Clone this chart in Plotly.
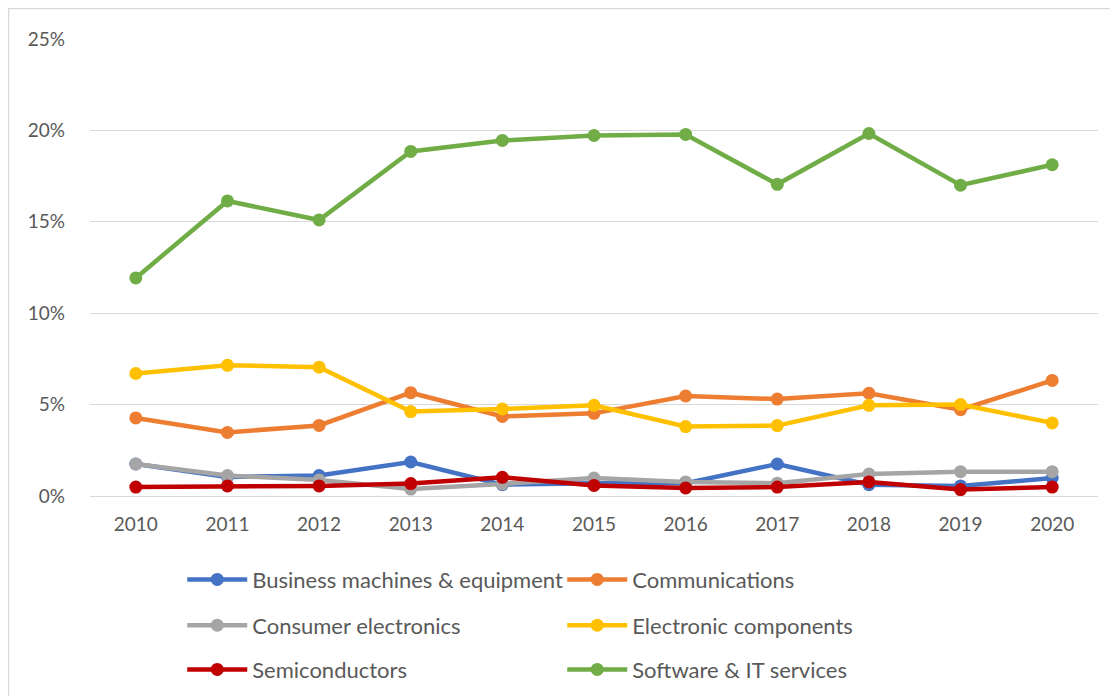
import plotly.graph_objects as go

years = ["2010", "2011", "2012", "2013", "2014", "2015", "2016", "2017", "2018", "2019", "2020"]

business = [1.75, 1.04, 1.12, 1.86, 0.62, 0.70, 0.70, 1.75, 0.62, 0.55, 0.98]
communications = [4.27, 3.48, 3.86, 5.65, 4.35, 4.52, 5.47, 5.30, 5.62, 4.72, 6.32]
consumer = [1.75, 1.12, 0.88, 0.38, 0.66, 0.98, 0.77, 0.70, 1.20, 1.33, 1.33]
components = [6.70, 7.15, 7.05, 4.62, 4.76, 4.96, 3.80, 3.85, 4.96, 5.00, 4.00]
semis = [0.49, 0.55, 0.55, 0.68, 1.02, 0.58, 0.44, 0.49, 0.77, 0.35, 0.49]
software = [11.93, 16.14, 15.10, 18.85, 19.45, 19.72, 19.78, 17.05, 19.83, 17.00, 18.12]

series = [
    ("Business machines & equipment", business, "#4472C4", "legend"),
    ("Communications", communications, "#ED7D31", "legend"),
    ("Consumer electronics", consumer, "#A5A5A5", "legend2"),
    ("Electronic components", components, "#FFC000", "legend2"),
    ("Semiconductors", semis, "#C00000", "legend3"),
    ("Software & IT services", software, "#70AD47", "legend3"),
]

fig = go.Figure()
for name, vals, col, leg in series:
    fig.add_trace(go.Scatter(
        x=years, y=vals, name=name, mode="lines+markers",
        line=dict(color=col, width=4.5),
        marker=dict(color=col, size=13),
        legend=leg,
    ))

font = dict(family="Lato, Liberation Sans, sans-serif", size=22, color="#595959")
legbase = dict(orientation="h", xanchor="left", yanchor="middle", x=0.0915,
               entrywidth=305, itemwidth=60, font=font, bgcolor="rgba(0,0,0,0)")

# page body has an 8px margin, so the figure sits at (8, 8)
fig.update_layout(
    width=1118, height=696,
    margin=dict(l=82, r=28, t=31, b=208, autoexpand=False),
    paper_bgcolor="white", plot_bgcolor="white",
    font=font,
    legend=dict(legbase, y=-0.183),
    legend2=dict(legbase, y=-0.283),
    legend3=dict(legbase, y=-0.380),
    xaxis=dict(type="category", range=[-0.5, 10.5], showgrid=False,
               showline=False, ticks="", ticklabelstandoff=15,
               tickfont=dict(size=19, color="#595959")),
    yaxis=dict(range=[0, 25], dtick=5, ticksuffix="%", gridcolor="#D9D9D9",
               gridwidth=1.3, zeroline=True, zerolinecolor="#D9D9D9", zerolinewidth=1.3,
               showline=False, ticklabelstandoff=24,
               tickfont=dict(size=19, color="#595959")),
    shapes=[dict(type="rect", xref="paper", yref="paper",
                 x0=-81.5 / 1008, x1=1040 / 1008, y0=-210 / 457, y1=1 + 30.5 / 457,
                 line=dict(color="#D9D9D9", width=1.5))],
)

fig.write_html("out.html")
